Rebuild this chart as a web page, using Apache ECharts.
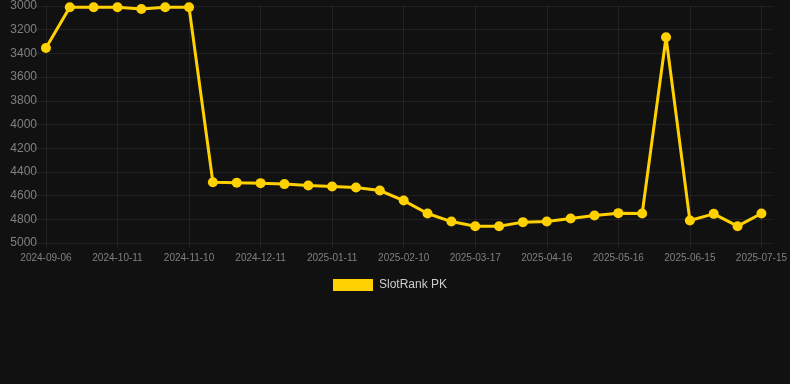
<!DOCTYPE html>
<html>
<head>
<meta charset="utf-8">
<script src="https://cdn.jsdelivr.net/npm/echarts@6/dist/echarts.min.js"></script>
<style>
html,body{margin:0;padding:0;background:#111111;}
#c{width:790px;height:384px;}
</style>
</head>
<body>
<div id="c"></div>
<script>
const categories = [
  "2024-09-06","2024-09-18","2024-09-30","2024-10-11","2024-10-21","2024-10-31",
  "2024-11-10","2024-11-20","2024-12-01","2024-12-11","2024-12-21","2025-01-01",
  "2025-01-11","2025-01-21","2025-01-31","2025-02-10","2025-02-22","2025-03-05",
  "2025-03-17","2025-03-27","2025-04-06","2025-04-16","2025-04-26","2025-05-06",
  "2025-05-16","2025-05-26","2025-06-05","2025-06-15","2025-06-25","2025-07-05",
  "2025-07-15"
];
const seriesName = "SlotRank PK";
const rankValues = [
  3355, 3011, 3011, 3011, 3025, 3011,
  3011, 4487, 4492, 4495, 4503, 4515,
  4523, 4531, 4557, 4642, 4751, 4819,
  4858, 4858, 4824, 4819, 4793, 4768,
  4748, 4751, 3264, 4810, 4754, 4858,
  4751
];
const yMin = 3000, yMax = 5000, yStep = 200;

const chart = echarts.init(document.getElementById('c'), null, {renderer:'canvas'});
const gridColor = 'rgba(255,255,255,0.07)';
chart.setOption({
  backgroundColor: '#111111',
  animation: false,
  textStyle: {fontFamily: 'Liberation Sans, Arial, sans-serif'},
  grid: {left: 34, right: 16, top: 6, bottom: 141, containLabel: false},
  legend: {
    top: 274, left: 328,
    itemWidth: 40, itemHeight: 12, itemGap: 10,
    icon: 'rect',
    textStyle: {color: '#cccccc', fontSize: 12, padding: [0, 0, 0, 1]},
    data: [{name: seriesName, itemStyle: {color: '#FFD100'}}]
  },
  xAxis: {
    type: 'category',
    data: categories,
    boundaryGap: true,
    axisLine: {show: false},
    axisTick: {show: true, alignWithLabel: true, interval: 2, length: 5, lineStyle: {color: gridColor}},
    axisLabel: {interval: 2, color: '#808080', fontSize: 10, margin: 10},
    splitLine: {show: true, alignWithLabel: true, interval: 2, lineStyle: {color: gridColor, width: 1}}
  },
  yAxis: {
    type: 'value',
    inverse: true,
    min: yMin, max: yMax, interval: yStep,
    axisLine: {show: false},
    axisTick: {show: false},
    axisLabel: {color: '#808080', fontSize: 12, margin: -3, formatter: function (v) { return String(v); }},
    splitLine: {show: true, lineStyle: {color: gridColor, width: 1}}
  },
  series: [{
    name: seriesName,
    type: 'line',
    data: rankValues,
    symbol: 'circle',
    symbolSize: 10,
    showSymbol: true,
    lineStyle: {color: '#FFD100', width: 3},
    itemStyle: {color: '#FFD100'}
  }]
});
</script>
</body>
</html>
